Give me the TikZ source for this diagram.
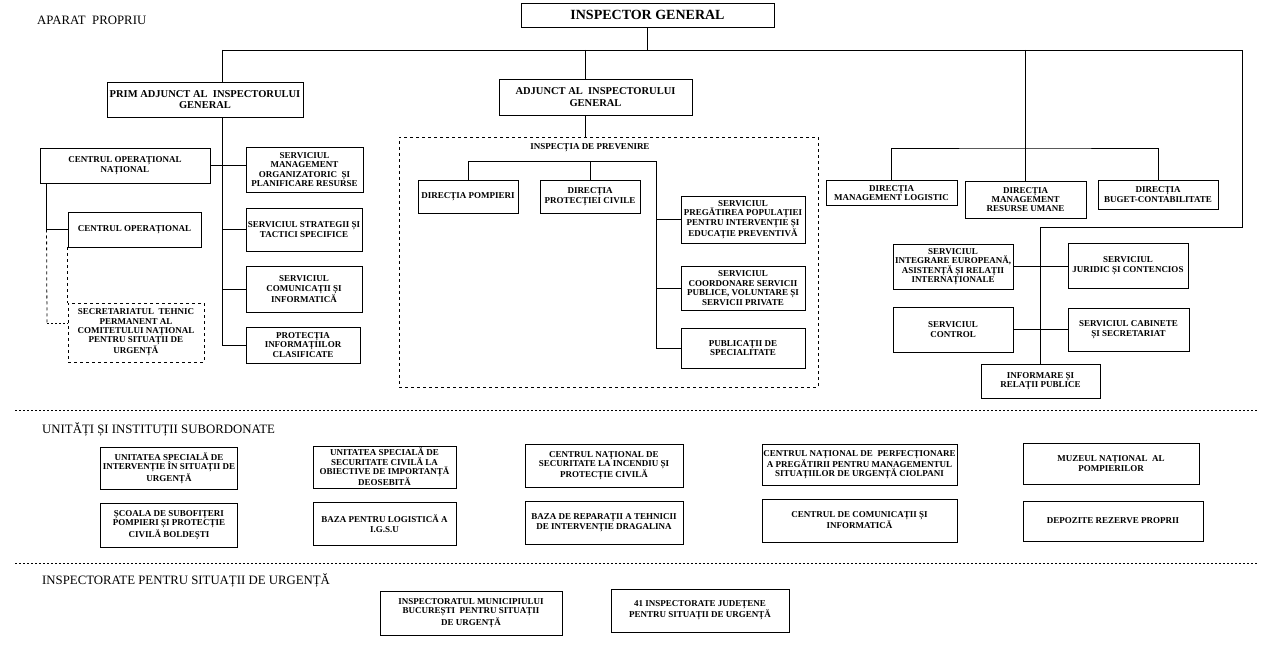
\documentclass[tikz,border=0pt]{standalone}
\usepackage{fontspec}
\setmainfont{Liberation Serif}

\tikzstyle{unit}=[draw,rectangle,line width=0.9pt,align=center,inner sep=1pt,font=\fontsize{9}{9.4}\selectfont\bfseries]
\tikzstyle{dashunit}=[unit,dashed]
\tikzstyle{chief}=[unit,font=\fontsize{14}{16}\selectfont\bfseries]
\tikzstyle{deputy}=[unit,font=\fontsize{10.5}{11.5}\selectfont\bfseries]
\tikzstyle{link}=[draw,line width=0.8pt,-]
\tikzstyle{seprule}=[draw,line width=0.8pt,dash pattern=on 2pt off 2pt]
\tikzstyle{heading}=[anchor=west,inner sep=0pt,font=\fontsize{12.8}{14}\selectfont]

\begin{document}
\begin{tikzpicture}[x=1pt,y=-1pt]
	\useasboundingbox (0,0) rectangle (1264,668);
	% Section titles
	\node[heading] (hap) at (37,20) {APARAT\ \ PROPRIU};
	\node[heading] (hun) at (42,429) {UNITĂȚI ȘI INSTITUȚII SUBORDONATE};
	\node[heading] (hin) at (42,580) {INSPECTORATE PENTRU SITUAȚII DE URGENȚĂ};
	% Top of the structure
	\node[chief,minimum width=253pt,minimum height=24pt] (ig) at (647.5,15) {INSPECTOR GENERAL};
	\node[deputy,minimum width=196pt,minimum height=35pt] (pa) at (205,99.5) {PRIM ADJUNCT AL\ \ INSPECTORULUI\\GENERAL};
	\node[deputy,minimum width=193pt,minimum height=36pt] (adj) at (595.5,97) {ADJUNCT AL\ \ INSPECTORULUI\\GENERAL};
	% Left branch
	\node[unit,minimum width=170pt,minimum height=35pt] (con) at (125,165.5) {CENTRUL OPERAȚIONAL\\NAȚIONAL};
	\node[unit,minimum width=133pt,minimum height=35pt] (co) at (134.5,229.5) {CENTRUL OPERAȚIONAL};
	\node[dashunit,minimum width=136pt,minimum height=59pt] (sec) at (136,332.5) {SECRETARIATUL\ \ TEHNIC\\PERMANENT AL\\COMITETULUI NAȚIONAL\\PENTRU SITUAȚII DE\\URGENȚĂ};
	\node[unit,minimum width=117pt,minimum height=45pt] (smo) at (304.5,169.5) {SERVICIUL\\MANAGEMENT\\ORGANIZATORIC\ \ ȘI\\PLANIFICARE RESURSE};
	\node[unit,minimum width=116pt,minimum height=43pt] (sst) at (304,229.5) {SERVICIUL STRATEGII ȘI\\TACTICI SPECIFICE};
	\node[unit,minimum width=116pt,minimum height=46pt] (sci) at (304,289) {SERVICIUL\\COMUNICAȚII ȘI\\INFORMATICĂ};
	\node[unit,minimum width=114pt,minimum height=36pt] (pic) at (303,345) {PROTECȚIA\\INFORMAȚIILOR\\CLASIFICATE};
	% Inspectia de prevenire
	\node[draw,dashed,line width=0.9pt,minimum width=419pt,minimum height=250pt] (insp) at (608.5,262) {};
	\node[font=\fontsize{9}{9.4}\selectfont\bfseries] (insplbl) at (590,148) {INSPECȚIA DE PREVENIRE};
	\node[unit,minimum width=100pt,minimum height=33pt] (dp) at (468,196.5) {DIRECȚIA POMPIERI};
	\node[unit,minimum width=100pt,minimum height=33pt] (dpc) at (590,196.5) {DIRECȚIA\\PROTECȚIEI CIVILE};
	\node[unit,minimum width=124pt,minimum height=47pt] (spp) at (743,219.5) {SERVICIUL\\PREGĂTIREA POPULAȚIEI\\PENTRU INTERVENȚIE ȘI\\EDUCAȚIE PREVENTIVĂ};
	\node[unit,minimum width=124pt,minimum height=44pt] (scs) at (743,288) {SERVICIUL\\COORDONARE SERVICII\\PUBLICE, VOLUNTARE ȘI\\SERVICII PRIVATE};
	\node[unit,minimum width=124pt,minimum height=40pt] (pub) at (743,348) {PUBLICAȚII DE\\SPECIALITATE};
	% Right branch
	\node[unit,minimum width=131pt,minimum height=25pt] (dml) at (891.5,193) {DIRECȚIA\\MANAGEMENT LOGISTIC};
	\node[unit,minimum width=121pt,minimum height=37pt] (dmr) at (1025.5,199.5) {DIRECȚIA\\MANAGEMENT\\RESURSE UMANE};
	\node[unit,minimum width=120pt,minimum height=29pt] (dbc) at (1158,194.5) {DIRECȚIA\\BUGET-CONTABILITATE};
	\node[unit,minimum width=120pt,minimum height=45pt] (sie) at (953,266.5) {SERVICIUL\\INTEGRARE EUROPEANĂ,\\ASISTENȚĂ ȘI RELAȚII\\INTERNAȚIONALE};
	\node[unit,minimum width=120pt,minimum height=45pt] (sjc) at (1128,265.5) {SERVICIUL\\JURIDIC ȘI CONTENCIOS};
	\node[unit,minimum width=120pt,minimum height=45pt] (sctl) at (953,329.5) {SERVICIUL\\CONTROL};
	\node[unit,minimum width=121pt,minimum height=43pt] (scab) at (1128.5,329.5) {SERVICIUL CABINETE\\ȘI SECRETARIAT};
	\node[unit,minimum width=119pt,minimum height=34pt] (irp) at (1040.5,381) {INFORMARE ȘI\\RELAȚII PUBLICE};
	% Subordinate units
	\node[unit,minimum width=137pt,minimum height=42pt] (u1) at (169,468) {UNITATEA SPECIALĂ DE\\INTERVENȚIE ÎN SITUAȚII DE\\URGENȚĂ};
	\node[unit,minimum width=143pt,minimum height=42pt] (u2) at (384.5,467) {UNITATEA SPECIALĂ DE\\SECURITATE CIVILĂ LA\\OBIECTIVE DE IMPORTANȚĂ\\DEOSEBITĂ};
	\node[unit,minimum width=158pt,minimum height=43pt] (u3) at (604,465.5) {CENTRUL NAȚIONAL DE\\SECURITATE LA INCENDIU ȘI\\PROTECȚIE CIVILĂ};
	\node[unit,minimum width=195pt,minimum height=41pt] (u4) at (859.5,464.5) {CENTRUL NAȚIONAL DE\ \ PERFECȚIONARE\\A PREGĂTIRII PENTRU MANAGEMENTUL\\SITUAȚIILOR DE URGENȚĂ CIOLPANI};
	\node[unit,minimum width=176pt,minimum height=41pt] (u5) at (1111,463.5) {MUZEUL NAȚIONAL\ \ AL\\POMPIERILOR};
	\node[unit,minimum width=137pt,minimum height=44pt] (u6) at (169,525) {ȘCOALA DE SUBOFIȚERI\\POMPIERI ȘI PROTECȚIE\\CIVILĂ BOLDEȘTI};
	\node[unit,minimum width=143pt,minimum height=43pt] (u7) at (384.5,523.5) {BAZA PENTRU LOGISTICĂ A\\I.G.S.U};
	\node[unit,minimum width=158pt,minimum height=43pt] (u8) at (604,522.5) {BAZA DE REPARAȚII A TEHNICII\\DE INTERVENȚIE DRAGALINA};
	\node[unit,minimum width=195pt,minimum height=43pt] (u9) at (859.5,520.5) {CENTRUL DE COMUNICAȚII ȘI\\INFORMATICĂ};
	\node[unit,minimum width=180pt,minimum height=40pt] (u10) at (1113,521) {DEPOZITE REZERVE PROPRII};
	% County inspectorates
	\node[unit,minimum width=182pt,minimum height=44pt] (isb) at (471,613) {INSPECTORATUL MUNICIPIULUI\\BUCUREȘTI\ \ PENTRU SITUAȚII\\DE URGENȚĂ};
	\node[unit,minimum width=178pt,minimum height=43pt] (isj) at (700,610.5) {41 INSPECTORATE JUDEȚENE\\PENTRU SITUAȚII DE URGENȚĂ};
	% Helper points for the tree lines
	\coordinate (topl) at (222,50);
	\coordinate (topr) at (1242,50);
	\coordinate (rturn) at (1242,227);
	\coordinate (aspine) at (585,50);
	\coordinate (rbar) at (1025.5,148);
	\coordinate (ibar) at (656,161);
	\coordinate (conleg) at ([xshift=7pt]con.south west);
	\coordinate (secleg) at (47,323);
	% Lines from the top
	\path[link] (ig.south) -- (ig.south |- topl);
	\path[link] (topl) -- (topr) -- (rturn) -- (rturn -| irp.north) -- (irp.north);
	\path[link] (topl) -- (topl |- pa.north);
	\path[link] (topl |- pa.south) -- (topl |- pic.west);
	\path[link] (con.east) -- (con.east -| smo.west);
	\foreach \dest in {sst,sci,pic}
		\path[link] (topl |- \dest.west) -- (\dest.west);
	\path[link] (conleg) -- (conleg |- co.west) -- (co.west);
	\path[link,dashed] (conleg |- co.west) -- (secleg);
	\path[link,dash pattern=on 2pt off 2pt] (secleg) -- (secleg -| sec.west);
	\path[link,dashed] (co.south west) -- (sec.north west);
	% Adjunct and prevention
	\path[link] (aspine) -- (aspine |- adj.north);
	\path[link] (aspine |- adj.south) -- (aspine |- insp.north);
	\path[link] (dp.north) |- (ibar) -- (ibar |- pub.west);
	\path[link] (dpc.north) -- (dpc.north |- ibar);
	\foreach \dest in {spp,scs,pub}
		\path[link] (ibar |- \dest.west) -- (\dest.west);
	% Right side
	\path[link] (dmr.north |- topl) -- (dmr.north);
	\path[link] (dml.north) |- (rbar) -| (dbc.north);
	\path[link] (sie.east) -- (sie.east -| sjc.west);
	\path[link] (sctl.east) -- (sctl.east -| scab.west);
	% Separators
	\coordinate (sepa) at (15,410);
	\coordinate (sepb) at (1258,410);
	\coordinate (sepc) at (15,563);
	\coordinate (sepd) at (1258,563);
	\path[seprule] (sepa) -- (sepb);
	\path[seprule] (sepc) -- (sepd);
\end{tikzpicture}
\end{document}
